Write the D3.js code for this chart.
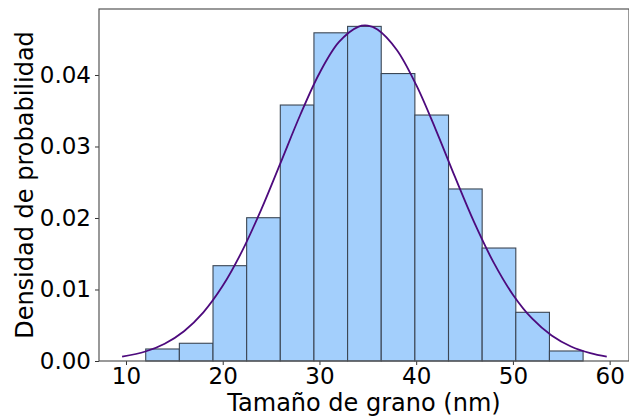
<!DOCTYPE html>
<html>
<head>
<meta charset="utf-8">
<script src="https://cdn.jsdelivr.net/npm/d3@7"></script>
<style>
  body { margin: 0; background: #fff; }
  svg text { font-family: "DejaVu Sans", sans-serif; fill: #000; }
</style>
</head>
<body>
<div id="chart"></div>
<script>
// Histogram bins (nm) and density per bin
var binStart = 12.04, binWidth = 3.478;
var densities = [0.00168, 0.00248, 0.01333, 0.02004, 0.0358, 0.0459, 0.0468,
                 0.0402, 0.0344, 0.02406, 0.0158, 0.00681, 0.0014];

// Fitted curve, points
var curveX = [9.6, 12, 14, 16, 18, 20, 22, 24, 26, 28, 30, 32, 34, 35, 36,
              38, 40, 42, 44, 46, 48, 50, 52, 54, 56, 58, 59.7];
var curveY = [0.0006, 0.00133, 0.00242, 0.00417, 0.00681, 0.01051, 0.01536, 0.02124,
              0.02778, 0.03437, 0.04025, 0.04459, 0.04674, 0.0469, 0.04636, 0.0435,
              0.03861, 0.03244, 0.02578, 0.01938, 0.01379, 0.00928, 0.00591, 0.00356,
              0.00203, 0.0011, 0.00062];

var xTicks = [10, 20, 30, 40, 50, 60];
var yTicks = [0, 0.01, 0.02, 0.03, 0.04];

var W = 629, H = 417;
var margin = {top: 9, left: 99, bottom: 56};
var width = 530, height = H - margin.top - margin.bottom;

var svg = d3.select("#chart").append("svg")
  .attr("width", W)
  .attr("height", H);

var g = svg.append("g")
  .attr("transform", "translate(" + margin.left + "," + margin.top + ")");

var x = d3.scaleLinear().domain([7.21, 62.0]).range([0, width]);
var y = d3.scaleLinear().domain([0, 0.04923]).range([height, 0]);

var bins = densities.map(function(d, i) {
  return {x0: binStart + i * binWidth, x1: binStart + (i + 1) * binWidth, v: d};
});

// bars
g.selectAll("rect.bar")
  .data(bins)
  .enter().append("rect")
  .attr("class", "bar")
  .attr("x", function(d) { return x(d.x0); })
  .attr("width", function(d) { return x(d.x1) - x(d.x0); })
  .attr("y", function(d) { return y(d.v); })
  .attr("height", function(d) { return y(0) - y(d.v); })
  .style("fill", "#a3cffc")
  .style("stroke", "#3b4654")
  .style("stroke-width", 1.1);

// fitted curve
var pts = curveX.map(function(v, i) { return [v, curveY[i]]; });
g.append("path")
  .datum(pts)
  .attr("d", d3.line()
    .x(function(d) { return x(d[0]); })
    .y(function(d) { return y(d[1]); })
    .curve(d3.curveCatmullRom))
  .style("fill", "none")
  .style("stroke", "#4d0a7d")
  .style("stroke-width", 1.8);

// axes
var xAxis = d3.axisBottom(x).tickValues(xTicks).tickSize(4).tickPadding(3)
  .tickFormat(d3.format("d"));
var yAxis = d3.axisLeft(y).tickValues(yTicks).tickSize(4).tickPadding(4)
  .tickFormat(d3.format(".2f"));

var gx = g.append("g")
  .attr("transform", "translate(0," + height + ")")
  .call(xAxis);
var gy = g.append("g").call(yAxis);

[gx, gy].forEach(function(a) {
  a.select(".domain").remove();
  a.selectAll("line").style("stroke", "#333").style("stroke-width", 1);
  a.selectAll("text").style("font-size", "23px");
});

// spines
g.append("rect")
  .attr("x", 0).attr("y", 0)
  .attr("width", width).attr("height", height)
  .style("fill", "none")
  .style("stroke", "#555")
  .style("stroke-width", 1.2);

// labels
svg.append("text")
  .attr("x", margin.left + width / 2)
  .attr("y", 411)
  .attr("text-anchor", "middle")
  .style("font-size", "24px")
  .text("Tamaño de grano (nm)");

svg.append("text")
  .attr("transform", "translate(33," + (margin.top + height / 2) + ") rotate(-90)")
  .attr("text-anchor", "middle")
  .style("font-size", "24px")
  .text("Densidad de probabilidad");
</script>
</body>
</html>
